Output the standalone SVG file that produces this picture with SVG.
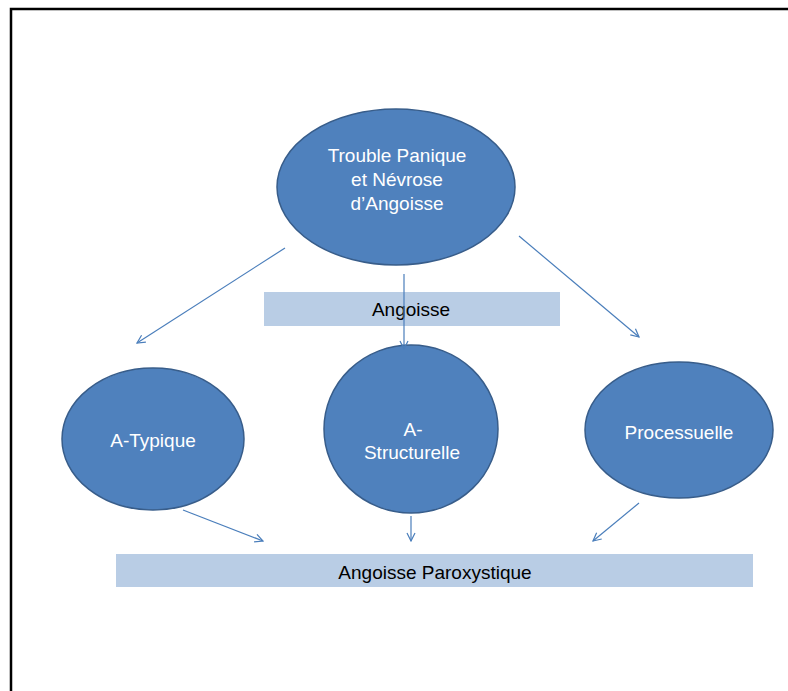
<svg xmlns="http://www.w3.org/2000/svg" width="788" height="691" viewBox="0 0 788 691">
<defs>
<style>
.node{fill:#4f81bd;stroke:#385d8a;stroke-width:1.5}
.wt{fill:#ffffff;font-family:"Liberation Sans",Arial,sans-serif;font-size:19px;text-anchor:middle}
.bar{fill:#b9cde5}
.bt{fill:#000000;font-family:"Liberation Sans",Arial,sans-serif;font-size:19px;text-anchor:middle}
.conn{stroke:#4a7ebb;stroke-width:1.2;fill:none;marker-end:url(#ah)}
</style>
<marker id="ah" viewBox="0 0 10 10" refX="9" refY="5" markerWidth="10" markerHeight="10" markerUnits="userSpaceOnUse" orient="auto">
<path d="M1,1 L9,5 L1,9" fill="none" stroke="#4a7ebb" stroke-width="1.2"/>
</marker>
</defs>
<rect width="788" height="691" fill="#ffffff"/>
<path d="M11,691 V9 H788" fill="none" stroke="#000000" stroke-width="2.5"/>
<g id="bar-angoisse">
<rect class="bar" x="264" y="292" width="296" height="34"/>
<text class="bt" x="411" y="316">Angoisse</text>
</g>
<g id="bar-paroxystique">
<rect class="bar" x="116" y="554" width="637" height="33"/>
<text class="bt" x="435" y="579">Angoisse Paroxystique</text>
</g>
<g id="node-trouble">
<ellipse class="node" cx="396" cy="187" rx="119" ry="78"/>
<text class="wt" x="397" y="162">Trouble Panique</text>
<text class="wt" x="397" y="186">et Névrose</text>
<text class="wt" x="397" y="210">d’Angoisse</text>
</g>
<g id="node-atypique">
<ellipse class="node" cx="153" cy="439" rx="91" ry="71"/>
<text class="wt" x="153" y="447">A-Typique</text>
</g>
<g id="node-astructurelle">
<ellipse class="node" cx="411" cy="429" rx="87" ry="84"/>
<text class="wt" x="413" y="436">A-</text>
<text class="wt" x="412" y="459">Structurelle</text>
</g>
<g id="node-processuelle">
<ellipse class="node" cx="679" cy="430" rx="94" ry="68"/>
<text class="wt" x="679" y="439">Processuelle</text>
</g>
<g id="connectors">
<line class="conn" x1="285" y1="248" x2="137" y2="343"/>
<line class="conn" x1="404" y1="274" x2="404" y2="349"/>
<line class="conn" x1="519" y1="236" x2="639" y2="337"/>
<line class="conn" x1="183" y1="510" x2="263" y2="541"/>
<line class="conn" x1="411" y1="516" x2="411" y2="541"/>
<line class="conn" x1="639" y1="503" x2="593" y2="541"/>
</g>
</svg>
